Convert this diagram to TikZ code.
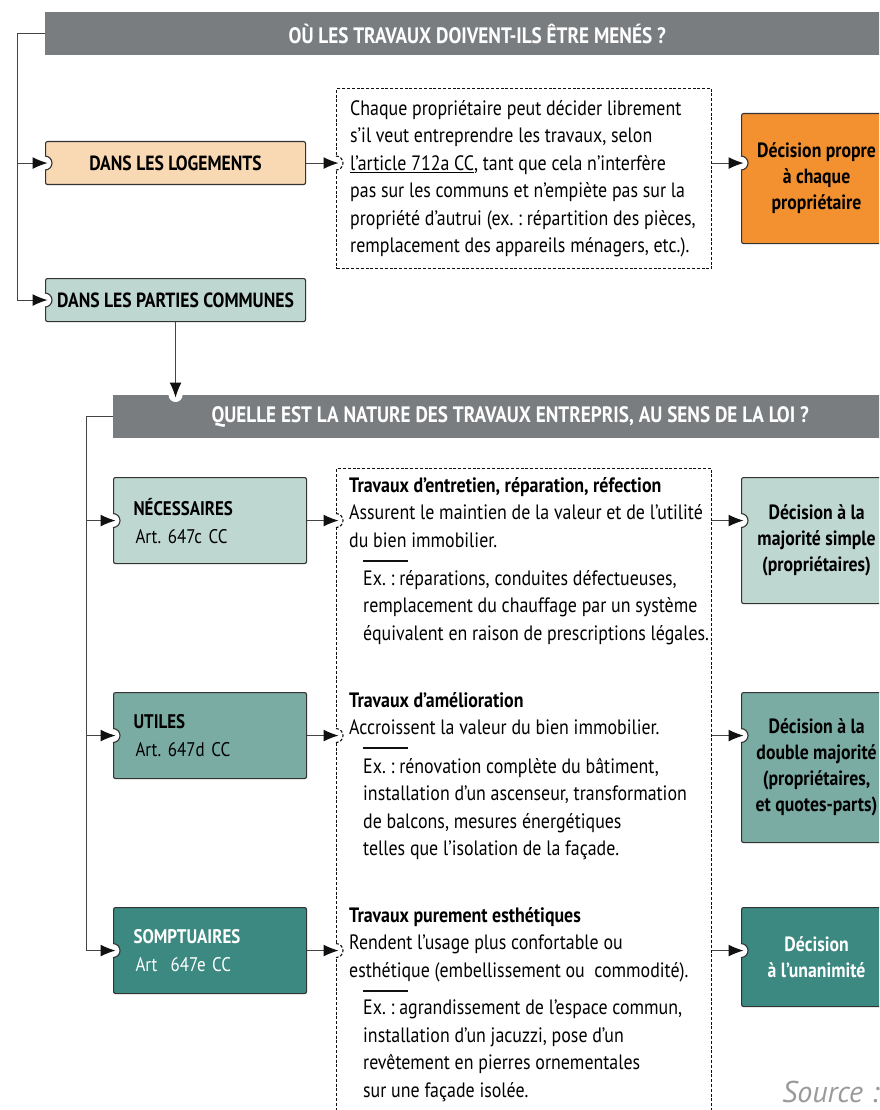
\documentclass[tikz,border=0pt]{standalone}
\usepackage{fontspec}
\setmainfont{PT Sans}[FakeStretch=0.86]
\newfontfamily\srcfont{PT Sans}
\usetikzlibrary{arrows.meta}
\frenchspacing

\definecolor{headgray}{HTML}{7A7D80}
\definecolor{peach}{HTML}{F9D8B4}
\definecolor{orangedec}{HTML}{F39131}
\definecolor{tealpale}{HTML}{BFD7D1}
\definecolor{tealmid}{HTML}{7AACA4}
\definecolor{tealdark}{HTML}{3B8981}
\definecolor{boxline}{HTML}{333333}
\definecolor{lineblack}{HTML}{111111}
\definecolor{linegray}{HTML}{444444}
\definecolor{srcgray}{HTML}{9A9A9A}

\newcommand{\fHead}{\fontsize{22.3}{24}\selectfont\bfseries}
\newcommand{\fLabel}{\fontsize{20.5}{22}\selectfont\bfseries}
\newcommand{\fBody}{\fontsize{20.8}{27.5}\selectfont}
\newcommand{\fDecision}{\fontsize{20.6}{26}\selectfont\bfseries}
\newcommand{\fCat}{\fontsize{19.7}{28}\selectfont}

% white cut-out where an arrow enters a box
\newcommand{\notch}[2][draw=boxline]{%
  \fill[white] (#2) circle (7pt);
  \draw[#1, line width=1.1pt] ([yshift=7pt]#2) arc[start angle=90, end angle=-90, radius=7pt];}

\tikzset{
  flowline/.style={line width=1pt, draw=linegray},
  arrowto/.style={flowline, -{Latex[length=15pt,width=12pt,color=lineblack]}, shorten >=-2.5pt},
  header/.style={fill=headgray, text=white, font=\fHead, minimum height=43pt,
    anchor=north west, inner sep=0pt},
  box/.style={draw=boxline, line width=1.1pt, rounded corners=2pt,
    anchor=north west, inner sep=0pt},
  catbox/.style={box, minimum width=193pt, minimum height=86pt, text width=153pt,
    align=left, font=\fCat},
  decbox/.style={box, minimum width=150pt, align=center, font=\fDecision},
  dashbox/.style={draw=lineblack, line width=1.4pt, dash pattern=on 3pt off 1.8pt,
    anchor=north west, inner sep=0pt},
  bodytext/.style={anchor=north west, inner sep=0pt, align=left, font=\fBody},
  exrule/.style={line width=1.3pt, draw=lineblack},
}

\begin{document}
\begin{tikzpicture}[x=1pt, y=-1pt]
  \useasboundingbox (0,0) rectangle (879,1110);
  \clip (0,0) rectangle (879,1110);

  % where?
  \node[header, minimum width=864pt] (ou) at (45,12) {OÙ LES TRAVAUX DOIVENT-ILS ÊTRE MENÉS ?};
  \node[box, fill=peach, minimum width=260pt, minimum height=43pt, font=\fLabel] (logements) at (45,141) {DANS LES LOGEMENTS};
  \node[box, fill=tealpale, minimum width=260pt, minimum height=43pt, font=\fLabel] (communes) at (45,278) {DANS LES PARTIES COMMUNES};
  \node[dashbox, minimum width=375pt, minimum height=180pt] (libre) at (336,88) {};
  \node[bodytext] (libre-txt) at (350,100) {Chaque propriétaire peut décider librement\\
    s’il veut entreprendre les travaux, selon\\
    \underline{l’article 712a CC}, tant que cela n’interfère\\
    pas sur les communs et n’empiète pas sur la\\
    propriété d’autrui (ex. : répartition des pièces,\\
    remplacement des appareils ménagers, etc.).};
  \node[decbox, fill=orangedec, minimum height=130pt] (propre) at (741,113) {Décision propre\\à chaque\\propriétaire};

  % what kind of works?
  \node[header, minimum width=794pt] (nature) at (113,395) {QUELLE EST LA NATURE DES TRAVAUX ENTREPRIS, AU SENS DE LA LOI ?};
  \node[catbox, fill=tealpale] (necessaires) at (113,477) {\textbf{NÉCESSAIRES}\\\hspace*{2pt}Art. 647c CC};
  \node[catbox, fill=tealmid] (utiles) at (113,692) {\textbf{UTILES}\\\hspace*{2pt}Art. 647d CC};
  \node[catbox, fill=tealdark, text=white] (somptuaires) at (113,907) {\textbf{SOMPTUAIRES}\\\hspace*{2pt}Art\ \ 647e CC};

  \node[dashbox, minimum width=375pt, minimum height=680pt] (detail) at (336,468) {};
  \node[bodytext] (entretien) at (349,477) {\textbf{Travaux d’entretien, réparation, réfection}\\
    Assurent le maintien de la valeur et de l’utilité\\
    du bien immobilier.};
  \node[bodytext] (entretien-ex) at (363,570) {Ex. : réparations, conduites défectueuses,\\
    remplacement du chauffage par un système\\
    équivalent en raison de prescriptions légales.};
  \node[bodytext] (amelioration) at (349,692) {\textbf{Travaux d'amélioration}\\
    Accroissent la valeur du bien immobilier.};
  \node[bodytext] (amelioration-ex) at (363,758) {Ex. : rénovation complète du bâtiment,\\
    installation d’un ascenseur, transformation\\
    de balcons, mesures énergétiques\\
    telles que l’isolation de la façade.};
  \node[bodytext] (esthetique) at (349,907) {\textbf{Travaux purement esthétiques}\\
    Rendent l’usage plus confortable ou\\
    esthétique (embellissement ou\ \ commodité).};
  \node[bodytext] (esthetique-ex) at (363,1000) {Ex. : agrandissement de l’espace commun,\\
    installation d’un jacuzzi, pose d’un\\
    revêtement en pierres ornementales\\
    sur une façade isolée.};
  \draw[exrule] (363,561) -- (408,561);
  \draw[exrule] (363,748) -- (408,748);
  \draw[exrule] (363,991) -- (408,991);

  \node[decbox, fill=tealpale, minimum height=126pt] (simple) at (741,477) {Décision à la\\majorité simple\\(propriétaires)};
  \node[decbox, fill=tealmid, minimum height=150pt] (double) at (741,692) {Décision à la\\double majorité\\(propriétaires,\\et quotes-parts)};
  \node[decbox, fill=tealdark, text=white, minimum height=99pt] (unanimite) at (741,907) {Décision\\à l’unanimité};

  \node[anchor=base west, inner sep=0pt, text=srcgray, font=\srcfont\fontsize{30}{32}\selectfont\itshape] (source) at (782,1102) {Source :};

  % entry points
  \coordinate (trunk1) at (17,0);
  \coordinate (trunk2) at (86,0);
  \coordinate (in-libre) at (logements.east -| libre.west);
  \coordinate (in-propre) at (logements.east -| propre.west);
  \coordinate (in-nature) at (communes.south |- nature.north);
  \notch{logements.west}
  \notch{communes.west}
  \notch[draw=lineblack, dash pattern=on 3pt off 1.8pt]{in-libre}
  \notch{in-propre}
  \fill[white] (in-nature) circle (7pt);
  \foreach \cat/\dec in {necessaires/simple, utiles/double, somptuaires/unanimite} {
    \coordinate (in-\cat) at (\cat.east -| detail.west);
    \coordinate (in-\dec) at (\cat.east -| \dec.west);
    \notch{\cat.west}
    \notch[draw=lineblack, dash pattern=on 3pt off 1.8pt]{in-\cat}
    \notch{in-\dec}
  }

  % connectors
  \draw[arrowto] (ou.west) -| (trunk1 |- communes.west) -- (communes.west);
  \draw[arrowto] (trunk1 |- logements.west) -- (logements.west);
  \draw[arrowto] (logements.east) -- (in-libre);
  \draw[arrowto] (libre.east |- in-libre) -- (in-propre);
  \draw[arrowto] (communes.south) -- (in-nature);
  \draw[arrowto] (nature.west) -| (trunk2 |- somptuaires.west) -- (somptuaires.west);
  \draw[arrowto] (trunk2 |- necessaires.west) -- (necessaires.west);
  \draw[arrowto] (trunk2 |- utiles.west) -- (utiles.west);
  \foreach \cat/\dec in {necessaires/simple, utiles/double, somptuaires/unanimite} {
    \draw[arrowto] (\cat.east) -- (in-\cat);
    \draw[arrowto] (detail.east |- in-\cat) -- (in-\dec);
  }
\end{tikzpicture}
\end{document}
